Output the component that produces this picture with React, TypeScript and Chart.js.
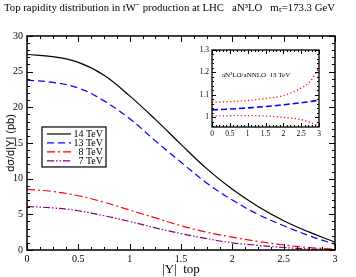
import React, { useEffect, useRef } from "react";
import { Chart, registerables } from "chart.js";

Chart.register(...registerables);

// ---- main data ----
const rapidity = [0, 0.25, 0.5, 0.75, 1.0, 1.25, 1.5, 1.75, 2.0, 2.25, 2.5, 2.75, 3.0];
const tev14 = [27.4, 27.1, 26.3, 24.5, 21.6, 18.3, 14.8, 11.4, 8.5, 6.1, 4.1, 2.5, 1.1];
const tev13 = [23.8, 23.5, 22.7, 20.9, 18.4, 15.3, 12.3, 9.4, 7.0, 5.0, 3.4, 2.0, 0.8];
const tev8 = [8.5, 8.2, 7.6, 6.7, 5.6, 4.5, 3.4, 2.5, 1.8, 1.2, 0.7, 0.35, 0.1];
const tev7 = [6.1, 5.9, 5.5, 4.8, 4.0, 3.1, 2.3, 1.6, 1.0, 0.65, 0.35, 0.15, 0.05];
const seriesLabels = ["14 TeV", "13 TeV", "8 TeV", "7 TeV"];

// ---- inset data (aN3LO / aNNLO, 13 TeV) ----
const insetRapidity = [0, 0.5, 1.0, 1.5, 2.0, 2.5, 2.75, 3.0];
const ratioCentral = [1.033, 1.037, 1.042, 1.048, 1.056, 1.065, 1.07, 1.077];
const ratioUpper = [1.067, 1.07, 1.075, 1.084, 1.097, 1.13, 1.16, 1.22];
const ratioLower = [1.006, 1.007, 1.008, 1.006, 1.0, 0.99, 0.978, 0.962];

const titleText = "Top rapidity distribution in tW\u207B production at LHC   aN\u00B3LO   m\u209C=173.3 GeV";
const insetText = "aN\u00B3LO/aNNLO  13 TeV";

const SERIF = "'Liberation Serif', 'Times New Roman', serif";
const SANS = "'Liberation Sans', Arial, sans-serif";

const pts = (xs: number[], ys: number[]) => xs.map((x, i) => ({ x, y: ys[i] }));
const fmt = (v: any) => String(+Number(v).toFixed(2));

const frameTicks = {
  id: "frameTicks",
  afterDatasetsDraw(chart: any, _args: any, opts: any) {
    const { ctx, chartArea, scales } = chart;
    const { left, right, top, bottom } = chartArea;
    const xs = scales.x;
    const ys = scales.y;
    ctx.save();
    ctx.strokeStyle = "#000";
    ctx.lineWidth = opts.lineWidth || 1;
    const isMajor = (v: number, step: number) => Math.abs(v / step - Math.round(v / step)) < 1e-6;
    ctx.beginPath();
    const nx = Math.round((xs.max - xs.min) / opts.xMinor);
    for (let i = 0; i <= nx; i++) {
      const v = xs.min + i * opts.xMinor;
      const px = Math.round(xs.getPixelForValue(v)) + 0.5;
      const len = isMajor(v, opts.xMajor) ? opts.major : opts.minor;
      ctx.moveTo(px, bottom);
      ctx.lineTo(px, bottom - len);
      ctx.moveTo(px, top);
      ctx.lineTo(px, top + len);
    }
    const start = Math.ceil(ys.min / opts.yMinor - 1e-6);
    const end = Math.floor(ys.max / opts.yMinor + 1e-6);
    for (let i = start; i <= end; i++) {
      const v = i * opts.yMinor;
      const py = Math.round(ys.getPixelForValue(v)) + 0.5;
      const len = isMajor(v, opts.yMajor) ? opts.major : opts.minor;
      ctx.moveTo(left, py);
      ctx.lineTo(left + len, py);
      ctx.moveTo(right, py);
      ctx.lineTo(right - len, py);
    }
    ctx.stroke();
    ctx.lineWidth = opts.frameWidth || 1.5;
    ctx.strokeRect(left, top, right - left, bottom - top);
    ctx.restore();
  },
};

const boxLegend = {
  id: "boxLegend",
  afterDatasetsDraw(chart: any, _args: any, opts: any) {
    if (!opts || !opts.show) return;
    const { ctx, chartArea } = chart;
    const x0 = chartArea.left + opts.dx;
    const y0 = chartArea.top + opts.dy;
    ctx.save();
    ctx.fillStyle = "#fff";
    ctx.fillRect(x0, y0, opts.w, opts.h);
    ctx.strokeStyle = "#000";
    ctx.lineWidth = 1.2;
    ctx.strokeRect(x0, y0, opts.w, opts.h);
    ctx.font = "10px " + SERIF;
    ctx.textAlign = "right";
    ctx.textBaseline = "middle";
    chart.data.datasets.forEach((ds: any, i: number) => {
      const y = y0 + 7 + i * 9;
      ctx.strokeStyle = ds.borderColor;
      ctx.lineWidth = ds.borderWidth;
      ctx.setLineDash(ds.borderDash || []);
      ctx.beginPath();
      ctx.moveTo(x0 + 5, y);
      ctx.lineTo(x0 + 29, y);
      ctx.stroke();
      ctx.setLineDash([]);
      ctx.fillStyle = "#000";
      ctx.fillText(ds.label, x0 + opts.w - 3, y + 0.5);
    });
    ctx.restore();
  },
};

const insetLabel = {
  id: "insetLabel",
  afterDatasetsDraw(chart: any, _args: any, opts: any) {
    if (!opts || !opts.text) return;
    const { ctx, chartArea } = chart;
    ctx.save();
    ctx.font = "7px " + SERIF;
    ctx.fillStyle = "#000";
    ctx.textBaseline = "middle";
    ctx.fillText(opts.text, chartArea.left + 10, chartArea.top + 25);
    ctx.restore();
  },
};

export default function App() {
  const mainRef = useRef<HTMLCanvasElement | null>(null);
  const insetRef = useRef<HTMLCanvasElement | null>(null);

  useEffect(() => {
    Chart.defaults.color = "#000";
    const main = new Chart(mainRef.current as HTMLCanvasElement, {
      type: "line",
      data: {
        datasets: [
          { label: seriesLabels[0], data: pts(rapidity, tev14), borderColor: "#000000", borderWidth: 1.2, borderDash: [] },
          { label: seriesLabels[1], data: pts(rapidity, tev13), borderColor: "#0000ff", borderWidth: 1.2, borderDash: [7, 4] },
          { label: seriesLabels[2], data: pts(rapidity, tev8), borderColor: "#ff0000", borderWidth: 1.2, borderDash: [8, 3, 2, 3] },
          { label: seriesLabels[3], data: pts(rapidity, tev7), borderColor: "#800080", borderWidth: 1.2, borderDash: [7, 2, 1.5, 2, 1.5, 2] },
        ] as any,
      },
      options: {
        animation: false,
        responsive: false,
        events: [],
        elements: { point: { radius: 0 }, line: { tension: 0.4, fill: false } },
        layout: { padding: { left: 4, right: 21, top: 0, bottom: 0 } },
        plugins: {
          legend: { display: false },
          tooltip: { enabled: false },
          title: {
            display: true,
            text: titleText,
            color: "#000",
            font: { family: SERIF, size: 10.8, weight: "normal", lineHeight: 1.2 },
            padding: { top: 2, bottom: 21 },
          },
          frameTicks: { xMajor: 0.5, xMinor: 0.125, yMajor: 5, yMinor: 1, major: 6, minor: 3, lineWidth: 1, frameWidth: 1.5 },
          boxLegend: { show: true, dx: 15, dy: 91, w: 64, h: 40 },
        } as any,
        scales: {
          x: {
            type: "linear",
            min: 0,
            max: 3,
            grid: { display: false, drawTicks: false },
            border: { display: false },
            ticks: { stepSize: 0.5, maxRotation: 0, padding: 3, font: { family: SERIF, size: 10 }, color: "#000", callback: fmt },
            title: { display: true, text: "|Y|  top", color: "#000", font: { family: SERIF, size: 13 }, padding: { top: 0, bottom: 0 } },
            afterFit: (s: any) => { s.height = 27; },
          },
          y: {
            type: "linear",
            min: 0,
            max: 30,
            grid: { display: false, drawTicks: false },
            border: { display: false },
            ticks: { stepSize: 5, padding: 4, font: { family: SERIF, size: 10 }, color: "#000", callback: fmt },
            title: { display: true, text: "d\u03C3/d|Y| (pb)", color: "#000", font: { family: SANS, size: 11 }, padding: { top: 0, bottom: 0 } },
            afterFit: (s: any) => { s.width = 23; },
          },
        } as any,
      },
      plugins: [frameTicks, boxLegend],
    });

    const inset = new Chart(insetRef.current as HTMLCanvasElement, {
      type: "line",
      data: {
        datasets: [
          { label: "upper", data: pts(insetRapidity, ratioUpper), borderColor: "#ff0000", borderWidth: 1.3, borderDash: [1.2, 2.4] },
          { label: "lower", data: pts(insetRapidity, ratioLower), borderColor: "#ff0000", borderWidth: 1.3, borderDash: [1.2, 2.4] },
          { label: "central", data: pts(insetRapidity, ratioCentral), borderColor: "#0000ff", borderWidth: 1.6, borderDash: [6, 3] },
        ] as any,
      },
      options: {
        animation: false,
        responsive: false,
        events: [],
        elements: { point: { radius: 0 }, line: { cubicInterpolationMode: "monotone", fill: false } },
        layout: { padding: { left: 0, right: 6, top: 8, bottom: 0 } },
        plugins: {
          legend: { display: false },
          tooltip: { enabled: false },
          title: { display: false },
          frameTicks: { xMajor: 0.5, xMinor: 0.1, yMajor: 0.1, yMinor: 0.02, major: 4, minor: 2, lineWidth: 1, frameWidth: 1.3 },
          insetLabel: { text: insetText },
        } as any,
        scales: {
          x: {
            type: "linear",
            min: 0,
            max: 3,
            grid: { display: false, drawTicks: false },
            border: { display: false },
            ticks: { stepSize: 0.5, maxRotation: 0, padding: 3, font: { family: SERIF, size: 7.5 }, color: "#000", callback: fmt },
            afterFit: (s: any) => { s.height = 15; },
          },
          y: {
            type: "linear",
            min: 0.957,
            max: 1.3,
            grid: { display: false, drawTicks: false },
            border: { display: false },
            ticks: {
              stepSize: 0.1,
              includeBounds: false,
              padding: 3,
              font: { family: SERIF, size: 7.5 },
              color: "#000",
              callback: fmt,
            },
            afterFit: (s: any) => { s.width = 27; },
          },
        } as any,
      },
      plugins: [frameTicks, insetLabel],
    });

    return () => {
      main.destroy();
      inset.destroy();
    };
  }, []);

  return (
    <div style={{ position: "absolute", left: 0, top: 0, width: 356, height: 277, background: "#fff" }}>
      <canvas ref={mainRef} width={356} height={277} style={{ position: "absolute", left: 0, top: 0 }} />
      <canvas ref={insetRef} width={140} height={100} style={{ position: "absolute", left: 185, top: 42 }} />
    </div>
  );
}
